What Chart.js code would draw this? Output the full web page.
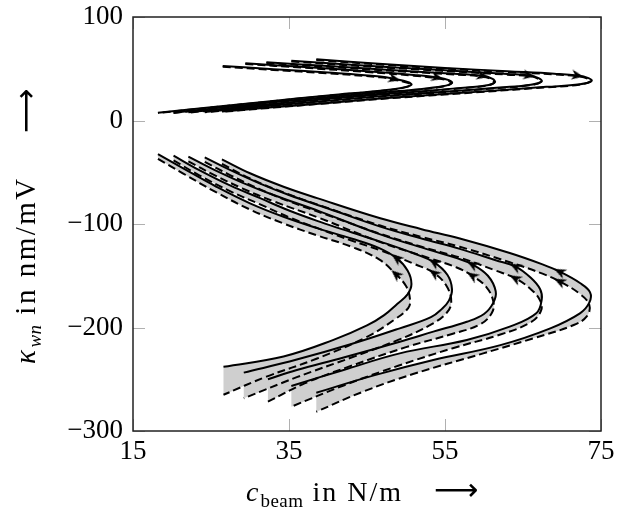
<!DOCTYPE html>
<html>
<head>
<meta charset="utf-8">
<script src="https://cdn.jsdelivr.net/npm/chart.js@4.4.1/dist/chart.umd.min.js"></script>
<style>
  html, body { margin: 0; padding: 0; background: #fff; }
  #wrap { position: relative; width: 626px; height: 510px; }
  .lbl { position: absolute; font-family: "Liberation Serif", serif; font-size: 28px; line-height: 28px; color: #000; white-space: nowrap; letter-spacing: 2px; }
  .lbl sub { font-size: 19px; vertical-align: -6px; line-height: 0; letter-spacing: 0.5px; }
  .rot { transform-origin: 0 0; transform: rotate(-90deg); font-size: 29px; letter-spacing: 2.5px; }
  .arr { font-family: "DejaVu Sans", sans-serif; font-size: 31px; letter-spacing: 0; }
</style>
</head>
<body>
<div id="wrap">
  <canvas id="chart" width="626" height="510"></canvas>
  <div class="lbl" style="left:246px; top:478px;"><i>c</i><sub>beam</sub> in N/m</div>
  <div class="lbl arr" style="left:434px; top:475px;">⟶</div>
  <div class="lbl rot" style="left:11px; top:364px;"><i>κ</i><sub><i>wn</i></sub> in nm/mV</div>
  <div class="lbl rot arr" style="left:11px; top:133px;">⟶</div>
</div>
<script>
// tick values
var xTicks = [15, 35, 55, 75];
var yTicks = [100, 0, -100, -200, -300];

// upper family (kappa > 0), solid and dashed
var upSolid1 = [[26.5,52.7],[33,49.6],[40,46.3],[46.7,42.4],[48.5,40.2],[50.3,37],[50.7,34.5],[49.4,31.4],[46.7,28.8],[40,24.2],[32,18.2],[25,12.8],[18.2,7.5]];
var upSolid2 = [[29.4,55.3],[37,51.6],[45,47.6],[51,44],[54,41.6],[55.5,39],[55.9,36.2],[54.7,33],[51,29.8],[46.7,27],[40,22.6],[32,16.8],[26,12.2],[20.2,7.6]];
var upSolid3 = [[32.1,56.2],[40,52.6],[48,48.8],[55,45.6],[59.8,43.2],[61.1,40.2],[61.4,37],[60.2,33.8],[56,30.8],[50,27],[46.7,25.4],[40,21],[32,15.3],[22.1,7.9]];
var upSolid4 = [[35.3,57.8],[43,53.9],[51,50.2],[58,47.2],[63,45],[65.8,43.6],[67,41],[67.4,37.8],[66,34.5],[62,31.8],[55,27.8],[46.7,23.4],[40,19],[32,13.8],[24.2,8.2]];
var upSolid5 = [[38.5,59.1],[47,54.6],[55,50.8],[63,47.6],[69,45.2],[72,43.4],[73.4,41],[73.8,38.3],[72.3,35],[68,32.5],[59.5,27.9],[53.1,24.6],[46.7,21.2],[40,17],[32,12.2],[26.4,8.6]];

var upDash1 = [[26.5,52],[33,48.9],[40,45.6],[46.7,41.7],[48.5,39.5],[50.2,36.4],[50.6,34],[49.3,31],[46.7,28.4],[40,23.9],[32,17.9],[25,12.5],[18.2,7.2]];
var upDash2 = [[29.4,54.6],[37,50.9],[45,46.9],[51,43.3],[54,40.9],[55.4,38.4],[55.8,35.7],[54.6,32.6],[51,29.4],[46.7,26.6],[40,22.3],[32,16.5],[26,11.9],[20.2,7.3]];
var upDash3 = [[32.1,55.5],[40,51.9],[48,48.1],[55,44.9],[59.8,42.5],[61,39.6],[61.3,36.5],[60.1,33.4],[56,30.4],[50,26.6],[46.7,25],[40,20.7],[32,15],[22.1,7.6]];
var upDash4 = [[35.3,57.1],[43,53.2],[51,49.5],[58,46.5],[63,44.3],[65.8,42.9],[66.9,40.4],[67.3,37.3],[65.9,34.1],[62,31.4],[55,27.4],[46.7,23],[40,18.7],[32,13.5],[24.2,7.9]];
var upDash5 = [[38.5,58.4],[47,53.9],[55,50.1],[63,46.9],[69,44.5],[72,42.7],[73.3,40.4],[73.7,37.8],[72.2,34.6],[68,32.1],[59.5,27.5],[53.1,24.2],[46.7,20.8],[40,16.7],[32,11.9],[26.4,8.3]];

// lower family (kappa < 0), solid and dashed
var lowSolid1 = [[18.2,-32.4],[21.5,-46.5],[25.7,-64],[30,-80],[34.3,-93],[38.6,-104],[43,-114],[46.5,-123],[48.8,-133],[50.2,-145],[50.7,-158],[50.2,-168],[48.9,-177],[47.2,-188],[45,-198],[40.7,-212],[34.3,-228],[26.6,-238]];
var lowSolid2 = [[20.2,-34],[23.5,-48],[27.5,-63],[31.3,-75],[35,-87],[39,-98],[43,-108],[46.7,-117],[51.2,-129],[53.6,-137],[55.3,-149],[55.9,-163],[55.5,-174],[54.6,-182],[53.2,-190],[49.2,-200.8],[43,-216],[36,-231],[29.2,-243.6]];
var lowSolid3 = [[22.1,-35],[25.5,-48],[29,-60],[33,-72],[39,-88],[46.7,-110],[53,-125],[56.5,-133],[58.5,-139],[60.5,-150],[61.5,-165],[61.2,-176],[60,-187],[57.8,-194.4],[53.5,-204],[49.2,-213.7],[42,-229],[36,-241],[32.3,-250]];
var lowSolid4 = [[24.2,-35.6],[27.5,-48],[31.3,-61],[35,-72],[40,-85],[46.7,-102.5],[52,-114],[56.9,-124],[61.5,-135],[64,-141],[66,-152],[67.2,-163],[67.4,-173],[66.7,-186.3],[63.3,-199.2],[57.8,-212],[49.2,-225],[42,-241],[35.3,-256.5]];
var lowSolid5 = [[26.4,-37.5],[30,-51],[34.3,-64],[38.6,-75],[46.7,-94.5],[52,-105],[56.9,-114],[63.3,-128],[67.5,-139],[69.7,-146],[72.3,-157],[73.6,-166],[73.5,-176],[72.3,-186.3],[68.5,-200.8],[62.1,-217],[53.5,-231.4],[46,-246],[38.5,-263]];

var lowDash1 = [[18.2,-37],[21.5,-51.5],[25.7,-69.5],[30,-86],[34.3,-99.5],[38.6,-111],[43,-122],[46.5,-134],[48.7,-148.5],[50,-160],[50.5,-172],[50.3,-181],[48.4,-193],[45,-209],[38.6,-230],[32.1,-247.5],[26.6,-265]];
var lowDash2 = [[20.2,-38.5],[23.5,-53],[27.5,-68.5],[31.3,-81],[35,-93.5],[39,-105],[43,-116],[46.7,-125.5],[51.2,-139],[53.6,-147.5],[55.2,-160],[55.8,-175],[55.2,-186],[53,-198],[49,-212],[43,-229],[36,-248],[29.2,-268.4]];
var lowDash3 = [[22.1,-39.5],[25.5,-53],[29,-65.5],[33,-78],[39,-94.5],[46.7,-117.5],[53,-133],[56.5,-142],[58.5,-150],[60.3,-161],[61.2,-175],[61,-186],[59.5,-197],[56,-206],[50,-219],[43,-237],[37,-254],[32.3,-271.7]];
var lowDash4 = [[24.2,-40],[27.5,-53],[31.3,-66.5],[35,-78],[40,-91.5],[46.7,-109.5],[52,-122],[56.9,-132.5],[61.5,-145],[64,-152.5],[66,-163],[67.2,-174],[67.3,-184],[66,-195],[62,-207],[56,-220],[49,-237],[42,-256],[35.3,-276.5]];
var lowDash5 = [[26.4,-42],[30,-56],[34.3,-69.5],[38.6,-81],[46.7,-101.5],[52,-112.5],[56.9,-122],[63.3,-137],[67.5,-148],[69.7,-155.5],[72.2,-167],[73.5,-178],[73.2,-189],[71.5,-197.6],[66.3,-210.5],[59.9,-225],[50.9,-245],[44.5,-262],[38.5,-281.4]];

// arrow heads
var arrowsUp = [[48.5,40.2],[54,41.6],[59.8,43.2],[65.8,43.6],[72,43.4]];
var arrowsLowSolid = [[48.8,-133],[53.6,-137],[58.5,-139],[64,-141],[69.7,-146]];
var arrowsLowDash = [[48.7,-148.5],[53.6,-147.5],[58.5,-150],[64,-152.5],[69.7,-155.5]];

var upSolid = [upSolid1, upSolid2, upSolid3, upSolid4, upSolid5];
var upDash = [upDash1, upDash2, upDash3, upDash4, upDash5];
var lowSolid = [lowSolid1, lowSolid2, lowSolid3, lowSolid4, lowSolid5];
var lowDash = [lowDash1, lowDash2, lowDash3, lowDash4, lowDash5];

var rotUp = [105, 103, 102, 100, 100];
var rotLowSolid = [-52, -56, -60, -62, -64];
var rotLowDash = [-49, -54, -58, -61, -63];

function xy(a) {
    return a.map(function (p) { return {x: p[0], y: p[1]}; });
}

// stealth style arrow head, pointing up, used as point style
var head = document.createElement('canvas');
head.width = 10;
head.height = 12;
(function () {
    var c = head.getContext('2d');
    c.fillStyle = '#000';
    c.beginPath();
    c.moveTo(5, 0);
    c.lineTo(10, 12);
    c.lineTo(5, 8.5);
    c.lineTo(0, 12);
    c.closePath();
    c.fill();
})();

function line(a, dashed) {
    return {
        data: xy(a), showLine: true, fill: false, tension: 0.4,
        borderColor: '#000', borderWidth: 2, borderDash: dashed ? [8, 4] : [],
        pointRadius: 0, order: 2
    };
}

function arrows(a, rot) {
    return {
        data: xy(a), showLine: false, pointStyle: head,
        pointRadius: 5, pointRotation: rot, order: 1
    };
}

var datasets = [];

// grey band between each solid and dashed lower curve; ends are doubled so the closing edge stays straight
lowSolid.forEach(function (s, i) {
    var d = lowDash[i].slice().reverse();
    var poly = s.concat([s[s.length - 1], d[0]], d);
    datasets.push({
        data: xy(poly),
        showLine: true, fill: 'shape', tension: 0.4,
        backgroundColor: '#cfcfcf', borderColor: 'rgba(0,0,0,0)', borderWidth: 0,
        pointRadius: 0, order: 3
    });
});

lowSolid.forEach(function (s) { datasets.push(line(s, false)); });
lowDash.forEach(function (s) { datasets.push(line(s, true)); });
upDash.forEach(function (s) { datasets.push(line(s, true)); });
upSolid.forEach(function (s) { datasets.push(line(s, false)); });

datasets.push(arrows(arrowsUp, rotUp));
datasets.push(arrows(arrowsLowSolid, rotLowSolid));
datasets.push(arrows(arrowsLowDash, rotLowDash));

// inward grey ticks on all four sides plus the box
var frame = {
    id: 'frame',
    beforeDatasetsDraw: function (chart) {
        var ctx = chart.ctx, a = chart.chartArea, sx = chart.scales.x, sy = chart.scales.y;
        ctx.save();
        ctx.strokeStyle = '#b0b0b0';
        ctx.lineWidth = 1;
        ctx.beginPath();
        xTicks.forEach(function (v) {
            var p = Math.round(sx.getPixelForValue(v)) + 0.5;
            ctx.moveTo(p, a.bottom); ctx.lineTo(p, a.bottom - 12);
            ctx.moveTo(p, a.top); ctx.lineTo(p, a.top + 12);
        });
        yTicks.forEach(function (v) {
            var p = Math.round(sy.getPixelForValue(v)) + 0.5;
            ctx.moveTo(a.left, p); ctx.lineTo(a.left + 12, p);
            ctx.moveTo(a.right, p); ctx.lineTo(a.right - 12, p);
        });
        ctx.stroke();
        ctx.restore();
    },
    afterDatasetsDraw: function (chart) {
        var ctx = chart.ctx, a = chart.chartArea;
        ctx.save();
        ctx.strokeStyle = '#222';
        ctx.lineWidth = 1.5;
        ctx.strokeRect(a.left, a.top, a.right - a.left, a.bottom - a.top);
        ctx.restore();
    }
};

function fmt(v) {
    return v < 0 ? '\u2212' + Math.abs(v) : String(v);
}

var tickFont = {family: '"Liberation Serif", serif', size: 27};

new Chart(document.getElementById('chart'), {
    type: 'scatter',
    data: {datasets: datasets},
    plugins: [frame],
    options: {
        responsive: false,
        animation: false,
        devicePixelRatio: 1,
        events: [],
        layout: {padding: {left: 0, right: 25, top: 17, bottom: 0}},
        plugins: {legend: {display: false}, tooltip: {enabled: false}},
        scales: {
            x: {
                type: 'linear', min: 15, max: 75,
                afterBuildTicks: function (s) { s.ticks = xTicks.map(function (v) { return {value: v}; }); },
                afterFit: function (s) { s.height = 79; s.paddingLeft = 0; s.paddingRight = 0; },
                grid: {display: false, drawTicks: false},
                border: {display: false},
                ticks: {font: tickFont, color: '#000', padding: 5, maxRotation: 0, callback: fmt}
            },
            y: {
                type: 'linear', min: -300, max: 100,
                afterBuildTicks: function (s) { s.ticks = yTicks.map(function (v) { return {value: v}; }); },
                afterFit: function (s) { s.width = 133; s.paddingTop = 0; s.paddingBottom = 0; },
                grid: {display: false, drawTicks: false},
                border: {display: false},
                ticks: {font: tickFont, color: '#000', padding: 10, callback: fmt}
            }
        }
    }
});
</script>
</body>
</html>
